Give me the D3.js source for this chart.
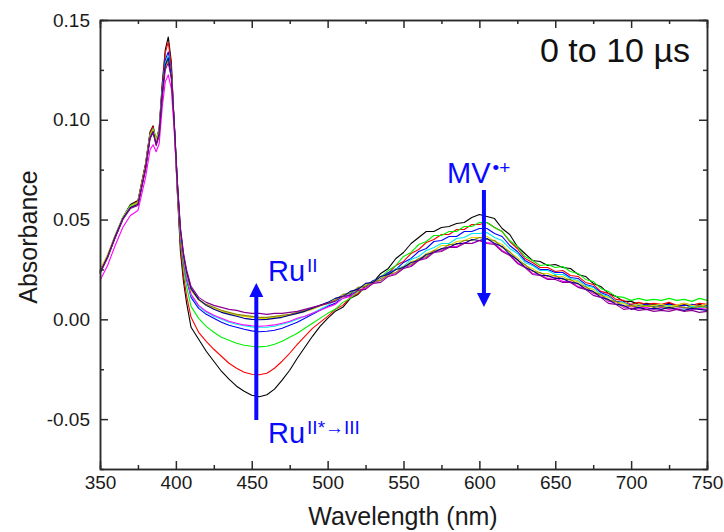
<!DOCTYPE html>
<html>
<head>
<meta charset="utf-8">
<script src="https://cdn.jsdelivr.net/npm/d3@7"></script>
<style>
  body { margin: 0; background: #fff; }
  svg { display: block; }
  text { font-family: "Liberation Sans", Arial, sans-serif; }
</style>
</head>
<body>
<div id="chart"></div>
<script>
// wavelength grid (nm)
var wavelength = [350,355,360,365,370,375,380,
  383,385,387,389,391,393,395,397,399,401,403,405,407,
  410,415,420,425,430,435,440,445,450,455,460,465,470,475,480,485,490,495,500,
  505,510,515,520,525,530,535,540,545,550,555,560,565,570,575,580,585,590,595,600,
  605,610,615,620,625,630,635,640,645,650,655,660,665,670,675,680,685,690,695,700,
  705,710,715,720,725,730,735,740,745,750];

// transient absorbance, in units of 1e-3 (mOD), one array per trace
var traceBlack = [24.5,32,42,51,57.5,59.5,78,
  94,97,89,96,118,135,141.5,129,96,63,34,19,8.5,
  -4,-10,-16,-21,-26,-30,-33.5,-36,-38,-38.8,-37.8,-35,-30.5,-25.5,-19.5,-14,-8.5,-3.5,0.5,
  4,6,10.5,12.5,16.5,18.5,23,25.5,30.5,33.5,38,41,44,44,46,46.5,48,48.5,51,52.5,
  51.5,50.5,45.5,42.5,36.5,33,29.5,29,27,27.5,26,25.5,22.5,21.5,18,16.5,13,11.5,9,9,
  7.5,8,7.5,7,8,6.5,7.5,6,7.5,6];
var traceRed = [24,31.5,41,50.5,57,59,77.5,
  93.5,96.5,89.5,95.5,117,133.5,139,127,96.5,64,37,22,12,
  1,-6.5,-11,-15,-18.5,-22,-24.5,-26.5,-27.5,-27.8,-27,-24.5,-21,-17,-12.5,-8.5,-4.5,-1.5,1.5,
  5,7,11,13,16.5,18,21.5,23,27,29,33,35,38.5,40,42.5,42.5,45,45,47.5,47.5,
  48.5,46,44,39,35.5,30.5,28.5,26,26,24,24.5,22,21.5,18.5,17.5,14,13,10,9.5,7.5,
  8.5,7.5,8,7.5,8.5,7,8,7,8,7.5];
var traceGreen = [24,31,41.5,51,57,58.5,76,
  92.5,95.5,90,95,114,128,132,123,96,66,40,26,16.5,
  6.5,0.5,-3.5,-6.5,-9,-10.5,-12,-13,-13.5,-13.8,-13.5,-12.5,-11,-9,-7,-4.5,-2,0.5,3,
  5,8.5,10.5,14,15.5,19,21,24.5,27,31.5,33.5,37.5,39,42,42,44,44,46.5,46.5,48.5,
  48.5,46,44,39.5,36.5,31.5,29.5,27,27.5,26,26.5,24,23,20,19,15.5,14,11.5,11,9.5,
  10.5,9.5,10,9.5,10.5,9.5,10,9,10.5,9.5];
var traceBlue = [23.5,31,41,50,56,58,76,
  92,95,88.5,94,115,130,134,124,97,67,42,29,20,
  11,5.5,2.5,0.5,-1.5,-3,-4,-5,-5.8,-6.2,-6,-5.5,-4.5,-3,-1.5,0.5,2.5,4.5,6.5,
  8,11,12.5,15.5,16.5,19.5,20.5,23.5,25,28.5,30.5,34,35.5,39,39.5,41.5,41.5,44,44,45.5,
  45.5,43,41.5,37,34,29.5,27.5,25,25,23.5,23.5,21,20.5,17.5,16.5,13.5,12,9,8.5,7,
  7,7.5,6.5,7,7.5,6.5,7,7.5,6.5,7];
var traceCyan = [24,32,42,51,56.5,58,76,
  92,95,89,94,114,128.5,132,122.5,96.5,67,42.5,30,21,
  12,6.5,3.5,1.5,0,-1.5,-2.5,-3.2,-3.8,-4,-4,-3.5,-2.5,-1.5,0,1.5,3,5,7,
  9.5,10.5,13.5,14.5,17.5,18.5,21.5,22.5,25.5,26.5,30,31.5,34.5,36,38,38,40.5,41,43,43,
  43.5,41,39.5,35.5,33,28.5,27,24.5,24.5,22.5,22.5,20.5,19.5,17,16,12.5,11.5,8.5,8.5,6.5,
  7.5,6.5,7,6,7,6.5,5.5,6.5,6,6.5];
var traceMagenta = [19.5,27,37,46,52,54.5,71,
  85,87.5,84,88,106,119,122.5,115.5,93,66,43,30,21.5,
  12.5,7,4,2,0.5,-1,-2,-2.8,-3.2,-3.5,-3.2,-2.8,-2,-1,0.5,1.5,3,4.5,6,
  7.5,10.5,11.5,14.5,15.5,18.5,19.5,22,23,26,27,30,31,34,34.5,36.5,36.5,38.5,38,39.5,
  38.5,38,34.5,32.5,28.5,26.5,23,22.5,20.5,21,19,19,16.5,15.5,13,12,9,8.5,6,6.5,
  5.5,6,5,6,5,5.5,6,5,5.5,5];
var traceYellow = [24.5,32.5,42,51,56.5,58.5,76.5,
  92,95,89.5,94,113,127,130.5,122,97,68,44,31.5,23,
  14.5,9.5,7,5.5,4,3,2,1.5,1,0.5,0.5,1,1.5,2,3,4,5,6.5,8,
  10,11,14,14.5,17.5,18.5,21,22,25,26,29,30,33,34.5,37,37,39,39.5,41,41,
  41.5,39,37.5,33.5,31,27,25.5,23,23,21.5,21.5,19.5,19,16,15,12,11,8.5,8,6.5,
  7.5,6.5,7,7.5,6.5,7,8,7,6.5,7.5];
var traceOlive = [23,31,41,50,56,58,76,
  91.5,94.5,88,93.5,112.5,126.5,130,121.5,97,68,44.5,32,23.5,
  15,10,7.5,6,4.5,3.5,2.5,2,1.5,1,1,1.5,2,2.5,3.5,4.5,5.5,7,8,
  9.5,12.5,13,16,16.5,19,19.5,22.5,23.5,26.5,27.5,30.5,31.5,34.5,35,37.5,37.5,39.5,39.5,41,
  40,39.5,36,34,29.5,27.5,24,23.5,21.5,22,20,20,17.5,16.5,13.5,12.5,9.5,9,6.5,7,
  6,7,6,6.5,5.5,6.5,6,5.5,6.5,6];
var traceNavy = [23.5,31.5,41.5,50.5,56,57.5,75.5,
  91,94,87.5,93,113,127.5,131,122,97.5,68.5,45,32.5,24,
  15.5,10,7,5,3.5,2.5,1.5,0.5,0,-0.2,0,0.5,1,2,3,4,5.5,7,8.5,
  10.5,11.5,14,15,18,18.5,21.5,22.5,25,26,28.5,29.5,32.5,33.5,35.5,36,38,38,40,39.5,
  40.5,38,36.5,32.5,30,26,24.5,22,22,20.5,20.5,18.5,18,15,14,11,10,7.5,7,5,
  6,5,5.5,5,6,5,4.5,5.5,5,4.5];
var tracePurple = [23,31,41,50,55.5,57,75,
  90.5,93.5,87,92,111,125,128.5,121,97.5,69,46,33.5,25,
  16.5,11,8.5,7,6,5,4.5,3.5,3,3,2.5,3,3,3.5,4,5,6,7,8,
  9,11.5,12,14.5,15,18,18.5,21.5,22.5,25.5,26.5,29.5,30.5,33.5,34,36,36,38,38,39.5,
  38,37.5,34,32,28,26,22.5,22,20,20,18.5,18.5,16,15,12,11,8,7.5,5,5.5,
  4.5,5,4,4.5,4,5,4,4.5,3.5,4];

var xTicks = [350,400,450,500,550,600,650,700,750];
var xMinor = [375,425,475,525,575,625,675,725];
var yTicks = [-0.05,0.00,0.05,0.10,0.15];
var yMinor = [-0.025,0.025,0.075,0.125];

var traces = [traceBlack, traceRed, traceGreen, traceBlue, traceCyan,
  traceMagenta, traceYellow, traceOlive, traceNavy, tracePurple];
var colors = ["#000000","#ff0000","#00f000","#0000ff","#00e8f0",
  "#ff00ff","#e0d800","#8a8a00","#000090","#8a0090"];

var W = 724, H = 532;
var svg = d3.select("#chart").append("svg").attr("width", W).attr("height", H);

var x = d3.scaleLinear().domain([350, 750]).range([100, 707]);
var y = d3.scaleLinear().domain([-0.075, 0.15]).range([469, 20]);

// traces
var line = d3.line()
  .x(function (d) { return x(d[0]); })
  .y(function (d) { return y(d[1] / 1000); });
svg.append("g").selectAll("path")
  .data(traces).enter()
  .append("path")
    .attr("d", function (t) { return line(t.map(function (v, i) { return [wavelength[i], v]; })); })
    .attr("fill", "none")
    .attr("stroke", function (t, i) { return colors[i]; })
    .attr("stroke-width", 1.1)
    .attr("stroke-linejoin", "round");

// axes, ticks pointing inward on all four sides
var axisColor = "#2a2a2a";
function styleAxis(g) {
  g.selectAll("path.domain").attr("stroke", axisColor).attr("stroke-width", 1.5);
  g.selectAll(".tick line").attr("stroke", axisColor).attr("stroke-width", 1.5);
  g.selectAll(".tick text").attr("fill", "#1a1a1a").style("font-size", "19px")
    .style("font-family", "'Liberation Sans', Arial, sans-serif");
}
svg.append("g").attr("transform", "translate(0,469)")
  .call(d3.axisBottom(x).tickValues(xTicks).tickSizeInner(-8).tickSizeOuter(0)
    .tickPadding(7).tickFormat(function (d) { return d; }))
  .call(styleAxis);
svg.append("g").attr("transform", "translate(0,469)")
  .call(d3.axisBottom(x).tickValues(xMinor).tickSize(-4).tickFormat(""))
  .call(styleAxis);
svg.append("g").attr("transform", "translate(0,20)")
  .call(d3.axisTop(x).tickValues(xTicks).tickSizeInner(-8).tickSizeOuter(0).tickFormat(""))
  .call(styleAxis);
svg.append("g").attr("transform", "translate(0,20)")
  .call(d3.axisTop(x).tickValues(xMinor).tickSize(-4).tickFormat(""))
  .call(styleAxis);
svg.append("g").attr("transform", "translate(100,0)")
  .call(d3.axisLeft(y).tickValues(yTicks).tickSizeInner(-8).tickSizeOuter(0)
    .tickPadding(10).tickFormat(function (d) { return d.toFixed(2); }))
  .call(styleAxis);
svg.append("g").attr("transform", "translate(100,0)")
  .call(d3.axisLeft(y).tickValues(yMinor).tickSize(-4).tickFormat(""))
  .call(styleAxis);
svg.append("g").attr("transform", "translate(707,0)")
  .call(d3.axisRight(y).tickValues(yTicks).tickSizeInner(-8).tickSizeOuter(0).tickFormat(""))
  .call(styleAxis);
svg.append("g").attr("transform", "translate(707,0)")
  .call(d3.axisRight(y).tickValues(yMinor).tickSize(-4).tickFormat(""))
  .call(styleAxis);

// axis titles
svg.append("text")
  .attr("x", 403).attr("y", 525)
  .attr("text-anchor", "middle")
  .style("font-size", "25px").attr("fill", "#1a1a1a")
  .text("Wavelength (nm)");
svg.append("text")
  .attr("transform", "translate(37,237) rotate(-90)")
  .attr("text-anchor", "middle")
  .style("font-size", "25px").attr("fill", "#1a1a1a")
  .text("Absorbance");

// time window label
svg.append("text")
  .attr("x", 690).attr("y", 62)
  .attr("text-anchor", "end")
  .style("font-size", "34px").attr("fill", "#111")
  .text("0 to 10 \u00b5s");

// annotations
var blue = "#0a0aff";
function arrow(xv, y0, y1) {
  var dir = y1 < y0 ? -1 : 1, head = 14, half = 7;
  svg.append("line")
    .attr("x1", xv).attr("x2", xv)
    .attr("y1", y0).attr("y2", y1 - dir * head + dir * 1)
    .attr("stroke", blue).attr("stroke-width", 4);
  svg.append("path")
    .attr("d", "M" + (xv - half) + "," + (y1 - dir * head) + "L" + xv + "," + y1 + "L" + (xv + half) + "," + (y1 - dir * head) + "Z")
    .attr("fill", blue);
}
arrow(x(453), 420, 283);
arrow(x(603), 190, 307);

function label(xv, yv, main, sup) {
  var t = svg.append("text").attr("x", xv).attr("y", yv)
    .attr("fill", blue).style("font-size", "29px");
  t.append("tspan").text(main);
  t.append("tspan").attr("dy", -9).attr("dx", 2).style("font-size", "19px").text(sup);
}
label(268, 281, "Ru", "II");
label(268, 443, "Ru", "II*\u2192III");
label(447, 183, "MV", "\u2022+");
</script>
</body>
</html>
